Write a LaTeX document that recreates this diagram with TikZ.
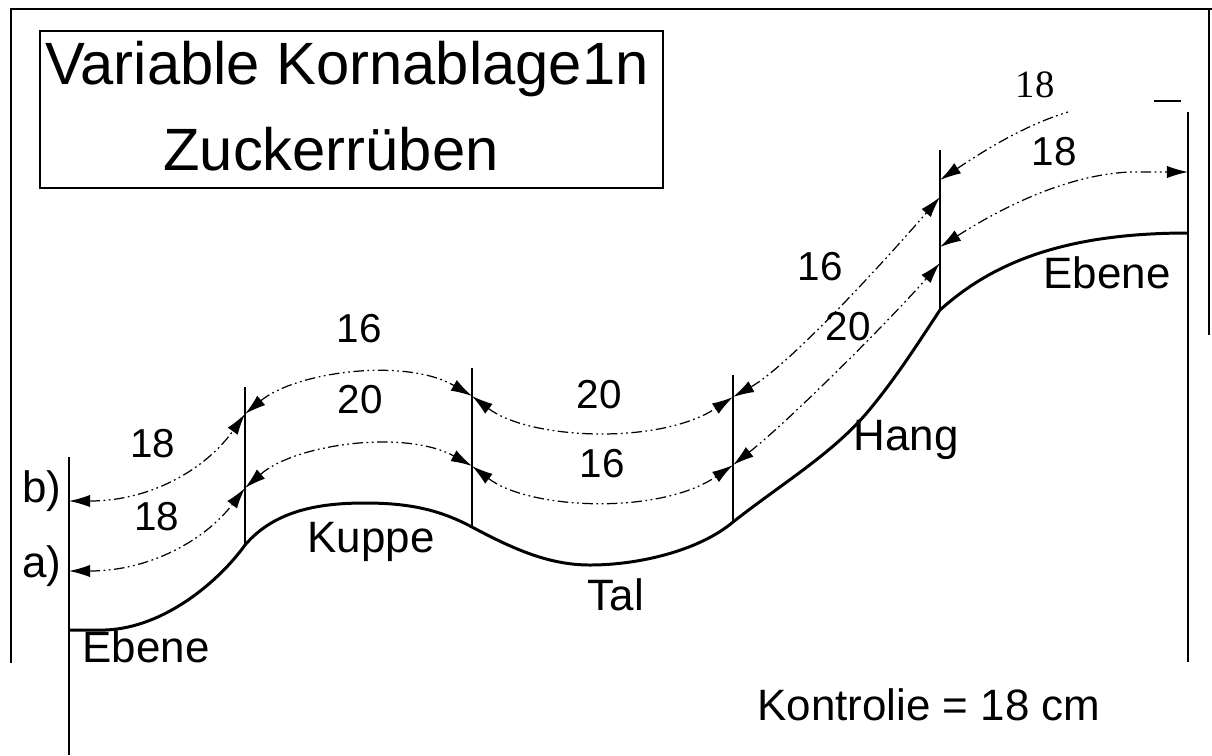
\documentclass[tikz,border=0pt]{standalone}
\usepackage{fontspec}
\setmainfont{Liberation Sans}
\newfontfamily\timesfont{Liberation Serif}
\usepackage{tikz}
\usetikzlibrary{arrows.meta}

\begin{document}
\begin{tikzpicture}[x=0.02cm, y=-0.02cm,
  frameline/.style={line width=1.6pt},
  boxline/.style={line width=0.9pt},
  ground/.style={line width=1.7pt},
  post/.style={line width=1.5pt},
  dimline/.style={line width=0.7pt, dash pattern=on 6pt off 2pt on 1pt off 2pt on 1pt off 2pt,
    >={Latex[length=12pt,width=7pt,fill=black]}},
  title/.style={font=\fontsize{34}{40}\selectfont, anchor=base, inner sep=0pt},
  lbl/.style={font=\fontsize{25}{30}\selectfont, anchor=base, inner sep=0pt},
  num/.style={font=\fontsize{23}{28}\selectfont, anchor=base, inner sep=0pt}]

\useasboundingbox (0,0) rectangle (1212,755);

% Outer frame (open at the bottom)
\draw[frameline] (11,663) -- (11,9) -- (1212,9);
\draw[frameline] (1209,9) -- (1209,335);

% Title box
\draw[boxline] (40,31) rectangle (663,188);
\node[title] (title1) at (347,84)  {Variable Kornablage1n};
\node[title] (title2) at (331,170) {Zuckerrüben};

% Posts: tops and ground points
\coordinate (t0) at (69,457);   \coordinate (g0) at (69,630);
\coordinate (t1) at (245,387);  \coordinate (g1) at (245,545);
\coordinate (t2) at (472,368);  \coordinate (g2) at (472,527);
\coordinate (t3) at (733,375);  \coordinate (g3) at (733,522);
\coordinate (t4) at (940,150);  \coordinate (g4) at (940,310);
\coordinate (t5) at (1188,112); \coordinate (g5) at (1188,233);

\draw[post] (t0) -- (69,755);
\draw[post] (t1) -- (g1);
\draw[post] (t2) -- (g2);
\draw[post] (t3) -- (g3);
\draw[post] (t4) -- (g4);
\draw[post] (t5) -- (1188,662);

% Ground profile: Ebene, Kuppe, Tal, Hang, Ebene
\draw[ground] (g0) -- (105,630) .. controls (165,628) and (220,580) .. (g1)
  .. controls (275,510) and (320,503) .. (365,503)
  .. controls (410,503) and (440,510) .. (g2)
  .. controls (515,550) and (550,565) .. (590,565)
  .. controls (640,565) and (700,550) .. (g3)
  .. controls (780,485) and (830,455) .. (865,415)
  .. controls (895,380) and (920,340) .. (g4)
  .. controls (990,265) and (1060,233) .. (g5);

% Ends of the spacing lines on the posts
\coordinate (b0) at (69,501);   \coordinate (a0) at (69,571);
\coordinate (b1) at (245,414);  \coordinate (a1) at (245,488);
\coordinate (b2) at (472,396);  \coordinate (a2) at (472,466);
\coordinate (b3) at (733,397);  \coordinate (a3) at (733,465);
\coordinate (b4) at (940,197);  \coordinate (a4) at (940,263);
\coordinate (b4r) at (940,180); \coordinate (a4r) at (940,247);
\coordinate (bend) at (1068,112); \coordinate (a5) at (1188,172);

% b) upper spacing line
\draw[dimline,<->] (b0) .. controls (150,501) and (205,470) .. (b1);
\draw[dimline,<->] (b1) .. controls (295,372) and (405,357) .. (b2);
\draw[dimline,<->] (b2) .. controls (530,440) and (660,445) .. (b3);
\draw[dimline,<->] (b3) .. controls (790,365) and (890,255) .. (b4);
\draw[dimline,<-] (b4r) .. controls (985,150) and (1025,125) .. (bend);

% a) lower spacing line
\draw[dimline,<->] (a0) .. controls (150,571) and (205,540) .. (a1);
\draw[dimline,<->] (a1) .. controls (295,444) and (405,429) .. (a2);
\draw[dimline,<->] (a2) .. controls (530,510) and (660,515) .. (a3);
\draw[dimline,<->] (a3) .. controls (790,420) and (890,320) .. (a4);
\draw[dimline,<->] (a4r) .. controls (990,215) and (1060,175) .. (1130,172) -- (a5);

% Spacing values
\node[num] (n18b0) at (153,457)  {18};
\node[num] (n18a0) at (157,530)  {18};
\node[num] (n16b1) at (359,342)  {16};
\node[num] (n20a1) at (360,413)  {20};
\node[num] (n20b2) at (599,408)  {20};
\node[num] (n16a2) at (602,477)  {16};
\node[num] (n16b3) at (820,280)  {16};
\node[num] (n20a3) at (848,340)  {20};
\node[num] (n18a4) at (1054,165) {18};
\node[num, font=\timesfont\fontsize{22}{26}\selectfont] (n18b4) at (1035,97) {18};
\draw[line width=1.3pt] (1154,101) -- (1181,101);

% Line and site labels
\node[lbl, anchor=base west] (lb) at (22,502) {b)};
\node[lbl, anchor=base west] (la) at (22,577) {a)};
\node[lbl] (ebene1) at (146,662) {Ebene};
\node[lbl] (kuppe)  at (371,552) {Kuppe};
\node[lbl] (tal)    at (616,610) {Tal};
\node[lbl] (hang)   at (906,450) {Hang};
\node[lbl] (ebene2) at (1107,288) {Ebene};
\node[lbl] (kontrolle) at (929,720) {Kontrolie = 18 cm};

\end{tikzpicture}
\end{document}
